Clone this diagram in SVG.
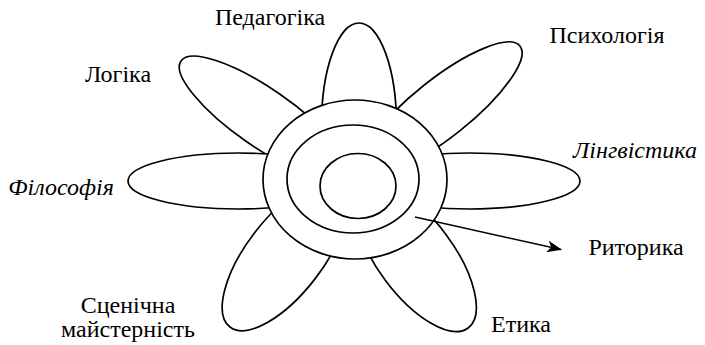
<svg xmlns="http://www.w3.org/2000/svg" width="705" height="345" viewBox="0 0 705 345">
<style>
.petal{fill:#fff;stroke:#000;stroke-width:1.7}
.ring{fill:#fff;stroke:#000;stroke-width:1.7}
.lbl{font-size:24px;fill:#000;text-anchor:middle}
.it{font-style:italic}
.conn{fill:none;stroke:#000;stroke-width:1.5}
</style>
<defs>
<marker id="arr" markerUnits="userSpaceOnUse" markerWidth="15" markerHeight="12" viewBox="0 0 15 12" refX="14" refY="6" orient="auto">
<path d="M0,0 L15,6 L0,12 L4,6 z" fill="#000"/>
</marker>
</defs>
<rect width="705" height="345" fill="#fff"/>
<g font-family="Liberation Serif, Times New Roman, serif">
<g id="pedagogika">
<ellipse class="petal" cx="359" cy="125" rx="37.5" ry="102"/>
<text class="lbl" x="270" y="25">Педагогіка</text>
</g>
<g id="logika">
<ellipse class="petal" cx="263.2" cy="117.9" rx="100" ry="29" transform="rotate(34.7 263.2 117.9)"/>
<text class="lbl" x="118" y="82">Логіка</text>
</g>
<g id="psykholohiia">
<ellipse class="petal" cx="441.7" cy="108.2" rx="100" ry="29" transform="rotate(-38.5 441.7 108.2)"/>
<text class="lbl" x="607" y="43">Психологія</text>
</g>
<g id="filosofiia">
<ellipse class="petal" cx="238" cy="181" rx="110" ry="28"/>
<text class="lbl it" x="61" y="195">Філософія</text>
</g>
<g id="linhvistyka">
<ellipse class="petal" cx="470" cy="181" rx="110" ry="28"/>
<text class="lbl it" x="635" y="158">Лінгвістика</text>
</g>
<g id="stsenichna">
<ellipse class="petal" cx="284.9" cy="255.7" rx="90" ry="38" transform="rotate(127.6 284.9 255.7)"/>
<text class="lbl" x="128" y="313">Сценічна</text>
<text class="lbl" x="128" y="337">майстерність</text>
</g>
<g id="etyka">
<ellipse class="petal" cx="415.6" cy="257.3" rx="88" ry="38" transform="rotate(53.4 415.6 257.3)"/>
<text class="lbl" x="521" y="332">Етика</text>
</g>
<g id="center">
<ellipse class="ring" cx="355" cy="179.5" rx="92" ry="79.5"/>
<ellipse class="ring" cx="353" cy="179" rx="66" ry="54"/>
<ellipse class="ring" cx="358" cy="186" rx="38" ry="32.5"/>
</g>
<g id="rytoryka">
<text class="lbl" x="636" y="255">Риторика</text>
</g>
</g>
<g id="connectors">
<line class="conn" x1="415" y1="217" x2="561" y2="249.5" marker-end="url(#arr)"/>
</g>
</svg>
